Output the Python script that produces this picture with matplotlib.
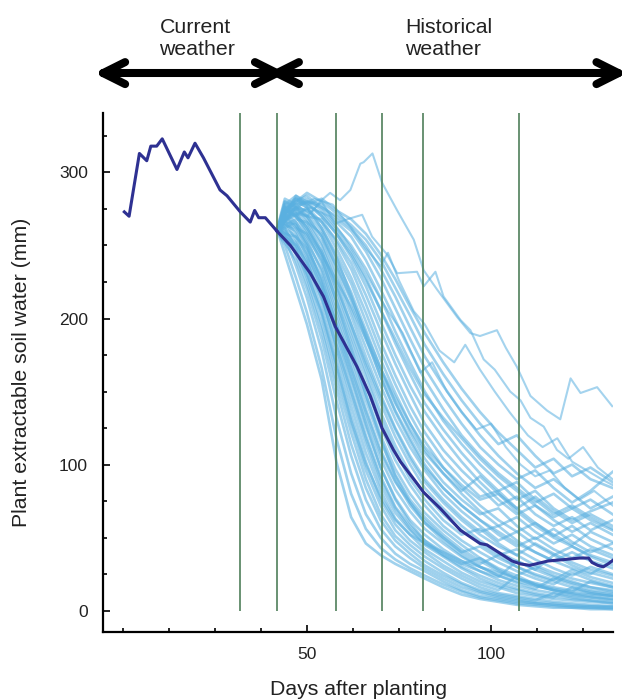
import matplotlib
matplotlib.use('Agg')
import matplotlib.pyplot as plt
from matplotlib.ticker import MultipleLocator, FixedLocator
from matplotlib.transforms import IdentityTransform
from matplotlib.lines import Line2D

plt.rcParams['font.family'] = ['Liberation Sans', 'DejaVu Sans']

# ---------------- data ----------------
x_major_ticks = [50, 100]
y_major_ticks = [0, 100, 200, 300]

# decision points (green vertical lines)
stage_days = [31.9, 41.8, 57.9, 70.4, 81.6, 107.7]

# observed (current weather) soil water
current_days = [0.4, 1.7, 4.5, 6.5, 7.6, 9.2, 10.7, 14.7, 16.7, 17.7, 19.6, 21.9,
                26.4, 28.3, 31.9, 34.6, 35.8, 36.9, 38.7, 41.8]
current_vals = [273, 270, 313, 308, 318, 318, 323, 302, 314, 310, 320, 310,
                288, 284, 273, 266, 274, 269, 269, 260]

# median of historical simulations
median_days = [41.8, 45.5, 50.9, 54.5, 57.7, 63.6, 67.2, 70.4, 73.5, 75.4, 81.7, 86.2,
               91.7, 97.0, 98.9, 105.7, 108.0, 110.5, 113.0, 115.5, 120.0, 124.0, 126.5,
               127.4, 129.0, 130.5, 131.8, 133.2]
median_vals = [260, 250, 231, 215, 194.5, 167, 147, 125, 110, 102, 81, 70,
               55, 46, 45, 34, 32, 31, 32.5, 34, 35, 36, 36,
               33, 31, 30, 32, 34.7]

# historical weather traces sampled on a common day grid
hist_days = [42, 44, 47, 50, 54, 58, 62, 66, 70, 74, 78, 82, 87, 92, 97, 102, 107, 112, 117, 122, 127, 133]
h01 = [260, 244, 220, 196, 158, 102, 64, 46, 38, 32, 27, 22, 16, 11, 8, 6, 4, 3, 2, 2, 1, 1]
h02 = [260, 250, 228, 204, 166, 118, 80, 56, 43, 35, 29, 24, 18, 13, 9, 7, 5, 4, 3, 2, 2, 1]
h03 = [261, 255, 236, 214, 178, 132, 94, 66, 50, 39, 32, 27, 20, 14, 10, 8, 6, 5, 4, 3, 2, 2]
h04 = [259, 252, 240, 220, 186, 144, 106, 76, 56, 44, 36, 29, 22, 16, 12, 9, 7, 5, 4, 3, 3, 2]
h05 = [262, 258, 244, 224, 192, 152, 114, 84, 62, 48, 39, 31, 24, 18, 13, 10, 8, 6, 5, 4, 3, 3]
h06 = [260, 262, 248, 228, 196, 158, 122, 90, 66, 51, 42, 34, 26, 19, 14, 11, 9, 7, 12, 9, 7, 5]
h07 = [261, 256, 250, 232, 202, 164, 128, 96, 72, 55, 45, 37, 29, 22, 16, 12, 10, 8, 6, 5, 4, 3]
h08 = [260, 266, 254, 236, 206, 170, 134, 102, 76, 59, 48, 40, 31, 24, 18, 14, 24, 18, 14, 11, 9, 7]
h09 = [262, 260, 252, 240, 212, 176, 140, 108, 82, 63, 52, 42, 34, 26, 20, 16, 12, 10, 8, 7, 6, 5]
h10 = [260, 268, 258, 242, 216, 180, 146, 114, 86, 67, 55, 45, 37, 29, 22, 17, 14, 11, 9, 16, 12, 10]
h11 = [261, 264, 260, 246, 220, 186, 152, 120, 92, 71, 58, 48, 40, 32, 36, 28, 22, 17, 14, 12, 10, 8]
h12 = [259, 270, 262, 250, 224, 190, 158, 126, 98, 77, 62, 52, 42, 34, 27, 21, 17, 14, 12, 10, 9, 8]
h13 = [262, 258, 256, 248, 228, 196, 164, 132, 104, 83, 68, 56, 46, 37, 30, 24, 19, 15, 22, 18, 14, 12]
h14 = [260, 272, 266, 254, 232, 200, 170, 138, 110, 89, 72, 60, 50, 40, 32, 38, 30, 24, 20, 16, 13, 11]
h15 = [261, 266, 264, 252, 234, 204, 174, 144, 116, 93, 76, 64, 52, 42, 34, 27, 22, 18, 15, 13, 20, 16]
h16 = [260, 274, 270, 258, 238, 208, 178, 148, 120, 97, 80, 67, 55, 45, 36, 29, 24, 30, 24, 20, 16, 14]
h17 = [262, 262, 266, 256, 240, 212, 184, 154, 126, 103, 86, 72, 58, 48, 40, 33, 27, 22, 18, 26, 21, 17]
h18 = [260, 270, 272, 262, 244, 216, 188, 160, 132, 109, 90, 76, 62, 52, 56, 46, 38, 31, 26, 22, 19, 16]
h19 = [261, 276, 270, 264, 246, 220, 192, 164, 136, 113, 94, 80, 66, 55, 46, 38, 42, 35, 29, 24, 30, 25]
h20 = [259, 264, 268, 266, 250, 224, 196, 168, 142, 119, 100, 84, 70, 58, 48, 40, 34, 28, 38, 31, 26, 22]
h21 = [262, 272, 276, 268, 252, 228, 202, 174, 148, 125, 106, 90, 76, 64, 54, 58, 48, 40, 34, 29, 25, 34]
h22 = [260, 268, 272, 270, 256, 232, 206, 180, 154, 131, 112, 96, 80, 68, 58, 48, 54, 45, 38, 44, 37, 31]
h23 = [261, 278, 274, 266, 258, 236, 212, 186, 160, 137, 118, 100, 84, 72, 62, 52, 44, 50, 42, 36, 42, 36]
h24 = [262, 270, 278, 272, 260, 240, 218, 192, 166, 143, 122, 104, 88, 76, 66, 70, 58, 49, 56, 47, 40, 46]
h25 = [260, 274, 270, 276, 262, 244, 224, 198, 172, 149, 128, 110, 94, 80, 68, 58, 64, 54, 46, 52, 44, 38]
h26 = [261, 266, 276, 274, 266, 248, 228, 204, 178, 155, 134, 116, 98, 84, 72, 62, 54, 60, 51, 58, 49, 42]
h27 = [259, 280, 276, 270, 268, 252, 234, 210, 184, 161, 140, 122, 104, 90, 78, 82, 70, 60, 52, 45, 54, 47]
h28 = [262, 272, 282, 276, 266, 254, 238, 216, 192, 169, 148, 128, 110, 96, 84, 72, 78, 66, 58, 64, 55, 62]
h29 = [260, 276, 278, 280, 270, 258, 242, 222, 198, 175, 154, 136, 118, 102, 88, 76, 66, 72, 62, 54, 60, 52]
h30 = [261, 270, 284, 278, 272, 260, 246, 228, 206, 183, 162, 142, 124, 108, 94, 82, 88, 76, 66, 72, 64, 56]
h31 = [262, 282, 278, 282, 274, 262, 250, 234, 214, 191, 170, 150, 130, 114, 100, 88, 76, 82, 70, 62, 68, 74]
h32 = [260, 274, 280, 284, 276, 266, 256, 240, 220, 199, 178, 158, 138, 120, 106, 94, 84, 74, 80, 70, 76, 66]
h33 = [261, 268, 276, 280, 278, 268, 260, 246, 228, 207, 186, 166, 146, 128, 112, 100, 90, 96, 84, 74, 82, 95]
h34 = [260, 278, 284, 280, 276, 270, 262, 250, 234, 215, 194, 174, 154, 136, 120, 106, 94, 84, 90, 80, 70, 78]
h35 = [262, 272, 280, 286, 280, 272, 264, 254, 240, 221, 202, 182, 162, 144, 128, 114, 120, 106, 94, 100, 90, 84]
h36 = [260, 276, 282, 278, 282, 274, 268, 258, 244, 227, 208, 190, 170, 152, 136, 122, 110, 98, 104, 92, 98, 88]
h37 = [260, 258, 246, 230, 204, 168, 130, 100, 78, 62, 52, 46, 40, 34, 30, 26, 22, 19, 16, 14, 12, 10]
h38 = [261, 270, 264, 250, 226, 196, 166, 136, 108, 88, 74, 62, 50, 40, 44, 36, 30, 25, 21, 28, 23, 19]
h39 = [262, 276, 272, 262, 246, 222, 196, 170, 146, 124, 104, 88, 74, 62, 52, 44, 38, 46, 39, 33, 28, 24]
h40 = [260, 264, 262, 258, 242, 212, 180, 148, 118, 92, 74, 60, 48, 38, 30, 24, 20, 17, 14, 12, 11, 10]
h41 = [261, 272, 280, 276, 262, 242, 216, 188, 160, 136, 116, 98, 84, 72, 62, 54, 46, 40, 34, 40, 34, 29]
h42 = [259, 262, 256, 244, 222, 192, 160, 128, 98, 76, 60, 48, 38, 30, 24, 19, 15, 12, 10, 8, 7, 6]
h43 = [262, 280, 276, 270, 256, 236, 214, 190, 166, 146, 128, 112, 98, 86, 76, 80, 68, 58, 50, 44, 38, 33]
h44 = [260, 268, 270, 260, 244, 226, 208, 186, 164, 142, 124, 108, 94, 82, 92, 80, 70, 78, 68, 60, 66, 58]
h45 = [261, 274, 282, 278, 270, 258, 244, 226, 206, 186, 166, 148, 132, 118, 104, 92, 82, 72, 64, 70, 62, 55]
h46 = [260, 260, 250, 238, 214, 182, 150, 118, 90, 70, 56, 46, 38, 32, 27, 23, 34, 28, 23, 19, 16, 13]
hist_traces = [h01, h02, h03, h04, h05, h06, h07, h08, h09, h10, h11, h12, h13, h14, h15, h16, h17, h18,
               h19, h20, h21, h22, h23, h24, h25, h26, h27, h28, h29, h30, h31, h32, h33, h34, h35, h36,
               h37, h38, h39, h40, h41, h42, h43, h44, h45, h46]

# wetter historical years, read individually
t1_days = [42, 45, 48, 51, 53.5, 56.3, 59, 61.8, 64.5, 65.4, 67.8, 70.4, 74.5, 79, 81.7, 85.3, 90.8,
           94.4, 97, 101.6, 104, 107, 110.7, 115.2, 118.8, 121.6, 124.3, 128.8, 132.9]
t1_vals = [260, 270, 276, 272, 280, 286, 281, 288, 306, 307, 313, 293, 274, 254, 233, 220, 201,
           190, 188, 192, 180, 167, 147, 137, 131, 159, 149, 153, 140]
t2_days = [42, 46, 50, 54, 57.7, 61, 65, 67.7, 71.7, 74.5, 79.9, 81.7, 84.9, 87.1, 91.7, 94.4, 98,
           101, 105.2, 108, 110.7, 114.3, 117.9, 121, 125, 129, 133]
t2_vals = [260, 275, 270, 280, 265, 268, 271, 256, 244, 231, 232, 222, 232, 215, 199, 192, 172,
           165, 150, 144, 132, 126, 110, 104, 112, 98, 90]
t3_days = [42, 47, 52, 57, 62, 66, 70, 72, 75, 79, 82, 86, 90, 93, 97, 101, 105, 110, 114, 118,
           122, 126, 130, 133]
t3_vals = [260, 276, 282, 278, 262, 248, 236, 245, 226, 205, 196, 178, 170, 182, 165, 150, 136,
           120, 112, 118, 102, 96, 90, 86]
t4_days = [42, 46, 51, 56, 60, 64, 68, 72, 76, 80.8, 84, 88, 92, 96, 100, 104, 108, 112, 116, 120,
           124, 128, 133]
t4_vals = [262, 270, 276, 270, 256, 240, 222, 205, 190, 163, 170, 150, 136, 124, 128, 112, 100,
           92, 96, 84, 76, 82, 72]
wet_traces = [(t1_days, t1_vals), (t2_days, t2_vals), (t3_days, t3_vals), (t4_days, t4_vals)]

# header arrows: (start day, end day) and labels
arrow_spans = [(-5.35, 41.85), (41.85, 134.6)]
arrow_level = 368
header_labels = ['Current\nweather', 'Historical\nweather']
header_x = [9.95, 76.7]

# ---------------- figure ----------------
fig = plt.figure(figsize=(6.22, 7.0), dpi=100)
ax = fig.add_axes([0.1661, 0.0976, 0.8199, 0.7410])
ax.set_xlim(-5.3, 133.2)
ax.set_ylim(-14.4, 340.7)

light = '#5ab0e0'
for vals in hist_traces:
    ax.plot(hist_days, vals, color=light, alpha=0.58, lw=1.9, zorder=2, solid_joinstyle='round')
for d, v in wet_traces:
    ax.plot(d, v, color=light, alpha=0.55, lw=1.5, zorder=2, solid_joinstyle='round')

ax.vlines(stage_days, 0, 340.7, color='#4f7f5a', lw=1.2, zorder=3)

navy = '#2e3192'
ax.plot(current_days, current_vals, color=navy, lw=2.2, zorder=4, solid_joinstyle='round')
ax.plot(median_days, median_vals, color=navy, lw=2.2, zorder=4, solid_joinstyle='round')

# axes styling
for s in ['top', 'right']:
    ax.spines[s].set_visible(False)
for s in ['left', 'bottom']:
    ax.spines[s].set_linewidth(1.6)
    ax.spines[s].set_color('black')
ax.xaxis.set_major_locator(FixedLocator(x_major_ticks))
ax.xaxis.set_minor_locator(MultipleLocator(12.5))
ax.yaxis.set_major_locator(FixedLocator(y_major_ticks))
ax.yaxis.set_minor_locator(MultipleLocator(25))
ax.tick_params(which='both', direction='in', width=1.2, colors='black')
ax.tick_params(which='major', length=5, labelsize=12.6, labelcolor='#222222', pad=11)
ax.tick_params(which='minor', length=3)
ax.set_xlabel('Days after planting', fontsize=15.3, color='#222222', labelpad=13)
ax.set_ylabel('Plant extractable soil water (mm)', fontsize=15.3, color='#222222', labelpad=20)

# header arrows
ident = IdentityTransform()
lw_arrow = 5.8
for x0, x1 in arrow_spans:
    ax.plot([x0, x1], [arrow_level, arrow_level], color='black', lw=lw_arrow,
            solid_capstyle='round', clip_on=False, zorder=5)
    (px0, py0), (px1, py1) = ax.transData.transform([(x0, arrow_level), (x1, arrow_level)])
    for tip, sgn in [((px0, py0), 1), ((px1, py1), -1)]:
        for dy in (11, -11):
            fig.add_artist(Line2D([tip[0], tip[0] + sgn * 22], [tip[1], tip[1] + dy],
                                  transform=ident, color='black', lw=lw_arrow,
                                  solid_capstyle='round'))

for lbl, hx in zip(header_labels, header_x):
    ax.text(hx, 380.6, lbl, ha='left', va='baseline', fontsize=15.3, color='#222222',
            linespacing=1.15, clip_on=False)

fig.savefig('out.png', dpi=100)
